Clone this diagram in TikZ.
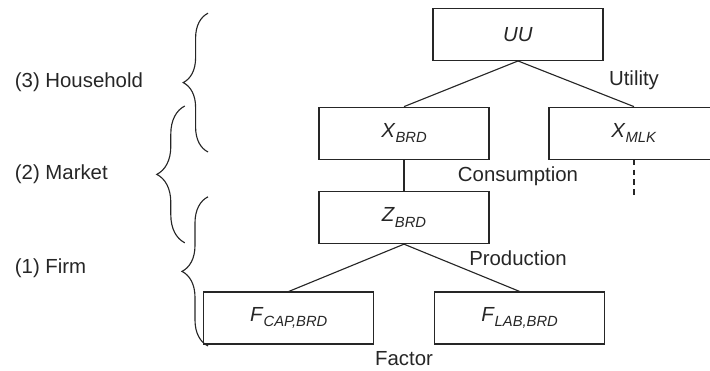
\documentclass[tikz,border=0pt]{standalone}
\usepackage{fontspec}
\setmainfont{Liberation Sans}
\usepackage{tikz}
\usetikzlibrary{decorations.pathreplacing}
\definecolor{InkGray}{HTML}{262626}
\newcommand{\varsub}[2]{\textit{#1}\raisebox{-0.5ex}{\fontsize{10.5}{12}\selectfont\textit{#2}}}

\begin{document}
\begin{tikzpicture}[
  % ── box style ────────────────────────────────────────────
  level/.style={
    draw=InkGray, line width=0.8pt,
    minimum width=4.25cm, minimum height=1.3cm,
    inner sep=2pt, text=InkGray,
    font=\fontsize{14.5}{17}\selectfont
  },
  % ── line style ───────────────────────────────────────────
  link/.style={line width=0.8pt, color=InkGray},
  % ── labels ───────────────────────────────────────────────
  tag/.style={text=InkGray, inner sep=1pt, font=\fontsize{14.5}{17}\selectfont},
  side/.style={tag, anchor=west},
  % ── curly brace ──────────────────────────────────────────
  brace/.style={link, decorate, decoration={brace, amplitude=#1}}
]
\clip (0,0) rectangle (17.75,-9.275);

%% ── Utility tier ──
\node[level] (UU)  at (12.95,-0.86) {\textit{UU}};

%% ── Consumption tier ──
\node[level] (XB)  at (10.1,-3.33)  {\varsub{X}{BRD}};
\node[level] (XM)  at (15.85,-3.33) {\varsub{X}{MLK}};

%% ── Production tier ──
\node[level] (ZB)  at (10.1,-5.44)  {\varsub{Z}{BRD}};

%% ── Factor tier ──
\node[level] (FC)  at (7.22,-7.95)  {\varsub{F}{CAP,BRD}};
\node[level] (FL)  at (12.99,-7.95) {\varsub{F}{LAB,BRD}};

%% ── Tier labels ──
\node[tag] (UT) at (15.85,-2.0)  {Utility};
\node[tag] (CO) at (12.95,-4.4)  {Consumption};
\node[tag] (PR) at (12.95,-6.45) {Production};
\node[tag] (FA) at (10.1,-8.96)  {Factor};

%% ── Edges ──
\draw[link] (UU.south) -- (XB.north);
\draw[link] (UU.south) -- (XM.north);
\draw[link] (XB.south) -- (ZB.north);
\draw[link] (ZB.south) -- (FC.north);
\draw[link] (ZB.south) -- (FL.north);
\coordinate (XMend) at (15.85,-4.95);
\draw[link, dash pattern=on 4pt off 3pt] (XM.south) -- (XMend);

%% ── Level braces ──
\coordinate (HHbot) at (5.2,-3.8);
\coordinate (HHtop) at (5.2,-0.33);
\coordinate (MKbot) at (4.62,-6.07);
\coordinate (MKtop) at (4.62,-2.65);
\coordinate (FMbot) at (5.2,-8.65);
\coordinate (FMtop) at (5.2,-4.92);
\draw[brace=0.62cm] (HHbot) -- (HHtop);
\draw[brace=0.7cm]  (MKbot) -- (MKtop);
\draw[brace=0.65cm] (FMbot) -- (FMtop);

\node[side] (HH) at (0.33,-2.06) {(3) Household};
\node[side] (MK) at (0.33,-4.35) {(2) Market};
\node[side] (FM) at (0.33,-6.7)  {(1) Firm};

\end{tikzpicture}
\end{document}
